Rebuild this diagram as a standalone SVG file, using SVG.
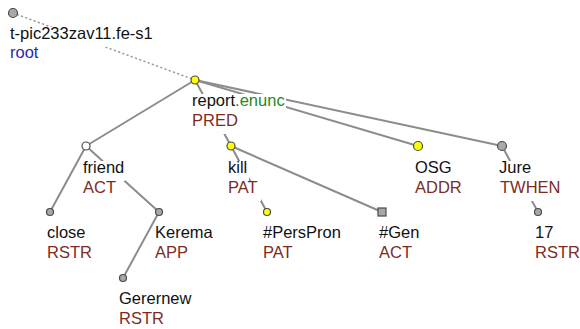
<svg xmlns="http://www.w3.org/2000/svg" width="580" height="329" viewBox="0 0 580 329">
<style>
  .e { stroke: #8c8c8c; stroke-width: 2; fill: none; stroke-linecap: round; }
  .d { stroke: #9a9a9a; stroke-width: 1.5; fill: none; stroke-dasharray: 1 3.5; stroke-linecap: round; }
  .n { stroke: #4a4a4a; stroke-width: 1.2; }
  .y { fill: #ffff00; }
  .g { fill: #a8a8a8; }
  .w { fill: #ffffff; }
  .bg { fill: #ffffff; }
  text { font-family: "Liberation Sans", Arial, sans-serif; font-size: 16.5px; }
  .t { fill: #111111; }
  .f { fill: #7b2c1f; }
  .r { fill: #2a2aa8; }
  .en { fill: #238a23; }
</style>
<rect width="580" height="329" fill="#ffffff"/>
<g id="connectors">
  <line class="d" x1="13" y1="13" x2="195" y2="80"/>
  <line class="e" x1="195" y1="80" x2="86" y2="146"/>
  <line class="e" x1="195" y1="80" x2="231" y2="146"/>
  <line class="e" x1="195" y1="80" x2="418" y2="146"/>
  <line class="e" x1="195" y1="80" x2="502" y2="146"/>
  <line class="e" x1="86" y1="146" x2="50" y2="212"/>
  <line class="e" x1="86" y1="146" x2="159" y2="212"/>
  <line class="e" x1="159" y1="212" x2="123" y2="278"/>
  <line class="e" x1="231" y1="146" x2="267" y2="212"/>
  <line class="e" x1="231" y1="146" x2="382" y2="212"/>
  <line class="e" x1="502" y1="146" x2="538" y2="212"/>
</g>
<g id="node-root">
  <rect class="bg" x="9" y="27" width="146" height="20"/>
  <rect class="bg" x="9" y="46" width="31" height="20"/>
  <circle class="n g" cx="13" cy="13" r="4.5"/>
  <text class="t" x="10" y="39">t-pic233zav11.fe-s1</text>
  <text class="r" x="10" y="58">root</text>
</g>
<g id="node-report">
  <rect class="bg" x="191" y="94" width="95" height="20"/>
  <rect class="bg" x="191" y="114" width="48" height="20"/>
  <circle class="n y" cx="195" cy="80" r="4"/>
  <text class="t" x="192" y="106">report<tspan class="en">.enunc</tspan></text>
  <text class="f" x="192" y="126">PRED</text>
</g>
<g id="node-friend">
  <rect class="bg" x="82" y="161" width="43" height="20"/>
  <rect class="bg" x="82" y="181" width="35" height="20"/>
  <circle class="n w" cx="86" cy="146" r="4"/>
  <text class="t" x="83" y="173">friend</text>
  <text class="f" x="83" y="193">ACT</text>
</g>
<g id="node-kill">
  <rect class="bg" x="227" y="161" width="22" height="20"/>
  <rect class="bg" x="227" y="181" width="34" height="20"/>
  <circle class="n y" cx="231" cy="146" r="4"/>
  <text class="t" x="228" y="173">kill</text>
  <text class="f" x="228" y="193">PAT</text>
</g>
<g id="node-OSG">
  <rect class="bg" x="414" y="161" width="39" height="20"/>
  <rect class="bg" x="414" y="181" width="49" height="20"/>
  <circle class="n y" cx="418" cy="146" r="4.5"/>
  <text class="t" x="415" y="173">OSG</text>
  <text class="f" x="415" y="193">ADDR</text>
</g>
<g id="node-Jure">
  <rect class="bg" x="498" y="161" width="34" height="20"/>
  <rect class="bg" x="498" y="181" width="63" height="20"/>
  <circle class="n g" cx="502" cy="146" r="4.5"/>
  <text class="t" x="499" y="173">Jure</text>
  <text class="f" x="500" y="193">TWHEN</text>
</g>
<g id="node-close">
  <rect class="bg" x="46" y="226" width="41" height="20"/>
  <rect class="bg" x="46" y="246" width="47" height="20"/>
  <circle class="n g" cx="50" cy="212" r="3.5"/>
  <text class="t" x="47" y="238">close</text>
  <text class="f" x="47" y="258">RSTR</text>
</g>
<g id="node-Kerema">
  <rect class="bg" x="154" y="226" width="60" height="20"/>
  <rect class="bg" x="154" y="246" width="35" height="20"/>
  <circle class="n g" cx="159" cy="212" r="3.5"/>
  <text class="t" x="155" y="238">Kerema</text>
  <text class="f" x="155" y="258">APP</text>
</g>
<g id="node-Gerernew">
  <rect class="bg" x="118" y="292" width="74" height="20"/>
  <rect class="bg" x="118" y="312" width="47" height="17"/>
  <circle class="n g" cx="123" cy="278" r="3.5"/>
  <text class="t" x="119" y="304">Gerernew</text>
  <text class="f" x="119" y="324">RSTR</text>
</g>
<g id="node-PersPron">
  <rect class="bg" x="262" y="226" width="80" height="20"/>
  <rect class="bg" x="262" y="246" width="34" height="20"/>
  <circle class="n y" cx="267" cy="212" r="3.5"/>
  <text class="t" x="263" y="238">#PersPron</text>
  <text class="f" x="263" y="258">PAT</text>
</g>
<g id="node-Gen">
  <rect class="bg" x="378" y="226" width="42" height="20"/>
  <rect class="bg" x="378" y="246" width="35" height="20"/>
  <rect class="n g" x="378" y="208" width="8" height="8"/>
  <text class="t" x="379" y="238">#Gen</text>
  <text class="f" x="379" y="258">ACT</text>
</g>
<g id="node-17">
  <rect class="bg" x="534" y="226" width="21" height="20"/>
  <rect class="bg" x="534" y="246" width="46" height="20"/>
  <circle class="n g" cx="538" cy="212" r="3.5"/>
  <text class="t" x="535" y="238">17</text>
  <text class="f" x="535" y="258">RSTR</text>
</g>
</svg>
